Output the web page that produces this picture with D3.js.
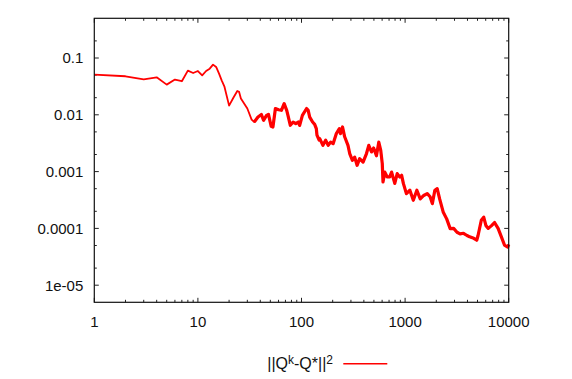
<!DOCTYPE html>
<html>
<head>
<meta charset="utf-8">
<script src="https://cdn.jsdelivr.net/npm/d3@7"></script>
<style>
  body { margin: 0; background: #fff; }
  svg text { font-family: "Liberation Sans", Arial, sans-serif; fill: #111; }
</style>
</head>
<body>
<div id="chart"></div>
<script>
// iteration k and squared error ||Q^k - Q*||^2
const iterK = [1, 2, 3, 4, 5, 6, 7, 8, 9, 10, 11, 12, 13, 14, 15, 16, 17, 18, 20, 22,
  24, 25, 26, 30, 33, 35, 38, 41, 43, 46, 48, 51, 53, 56, 60, 64, 68, 72, 74, 78,
  83, 88, 93, 96, 102, 112, 116, 120, 128, 134, 139, 141, 148, 150, 161, 171, 181, 191, 202, 217,
  232, 238, 249, 261, 281, 292, 310, 326, 344, 364, 393, 424, 446, 474, 497, 529, 557, 582, 602, 612,
  637, 670, 710, 741, 795, 839, 890, 926, 962, 1029, 1112, 1200, 1299, 1400, 1513, 1636, 1744, 1832, 1937, 2040,
  2155, 2330, 2520, 2723, 2940, 3170, 3390, 3660, 3960, 4200, 4600, 4920, 5060, 5440, 5740, 6030, 6350, 6830, 7300, 7900,
  8500, 9100, 9800, 10000];
const errVal = [0.051, 0.0477, 0.042, 0.0457, 0.034, 0.0417, 0.039, 0.060, 0.0545, 0.059, 0.0496, 0.059, 0.065, 0.0765, 0.0695, 0.053, 0.040, 0.0318, 0.0145, 0.0200,
  0.0262, 0.0253, 0.0193, 0.0129, 0.0082, 0.00746, 0.00914, 0.0101, 0.008, 0.0098, 0.0102, 0.00628, 0.0061, 0.0129, 0.0123, 0.0120, 0.0157, 0.012, 0.0098, 0.00653,
  0.00746, 0.0070, 0.00746, 0.0065, 0.0098, 0.0129, 0.012, 0.0091, 0.00746, 0.0068, 0.0057, 0.0044, 0.0036, 0.0038, 0.0029, 0.00356, 0.0029, 0.0033, 0.0031, 0.00467,
  0.0057, 0.00467, 0.0061, 0.0041, 0.0029, 0.00208, 0.00158, 0.0018, 0.00129, 0.00169, 0.00147, 0.00208, 0.0029, 0.00222, 0.0026, 0.0019, 0.0033, 0.00236, 0.00138, 0.00066,
  0.00098, 0.00081, 0.00081, 0.00098, 0.00062, 0.00092, 0.0008, 0.00086, 0.00062, 0.00041, 0.00047, 0.000313, 0.00047, 0.00033, 0.00038, 0.00041, 0.00036, 0.000273, 0.00047, 0.0005,
  0.00033, 0.000195, 0.000147, 0.000099, 0.0001, 0.0000855, 0.00008, 0.000082, 0.000075, 0.000071, 0.000067, 0.000062, 0.000075, 0.000139, 0.000158, 0.000112, 0.0001, 0.000112, 0.000127, 0.0001,
  0.000071, 0.000051, 0.000047, 0.000052];

const xTicks = [1, 10, 100, 1000, 10000];
const xTickLabels = ['1', '10', '100', '1000', '10000'];
const yTicks = [0.1, 0.01, 0.001, 0.0001, 0.00001];
const yTickLabels = ['0.1', '0.01', '0.001', '0.0001', '1e-05'];

const width = 572, height = 379;
const margin = {top: 18.3, right: 63.3, bottom: 76.7, left: 94.3};
const w = width - margin.left - margin.right;
const h = height - margin.top - margin.bottom;

const svg = d3.select('#chart').append('svg')
    .attr('width', width)
    .attr('height', height);

const g = svg.append('g')
    .attr('transform', 'translate(' + margin.left + ',' + margin.top + ')');

const x = d3.scaleLog().domain([1, 10000]).range([0, w]);
const y = d3.scaleLog().domain([5e-6, 0.5]).range([h, 0]);

// minor ticks: 2..9 per decade on x, 2 and 5 on y
const xMinor = [];
for (let d = 1; d < 10000; d *= 10) for (let m = 2; m <= 9; m++) xMinor.push(d * m);
const yMinor = [];
for (let d = 1e-6; d < 1; d *= 10) [2, 5].forEach(m => { const v = d * m; if (v > 5e-6 && v < 0.5) yMinor.push(v); });

const tickStroke = '#222';
const ticks = g.append('g').attr('stroke', tickStroke).attr('stroke-width', 1);
function hTick(v, len) {
  ticks.append('line').attr('x1', 0).attr('x2', len).attr('y1', y(v)).attr('y2', y(v));
  ticks.append('line').attr('x1', w).attr('x2', w - len).attr('y1', y(v)).attr('y2', y(v));
}
function vTick(v, len) {
  ticks.append('line').attr('y1', h).attr('y2', h - len).attr('x1', x(v)).attr('x2', x(v));
  ticks.append('line').attr('y1', 0).attr('y2', len).attr('x1', x(v)).attr('x2', x(v));
}
yTicks.forEach(v => hTick(v, 4.5));
yMinor.forEach(v => hTick(v, 2.5));
xTicks.forEach(v => vTick(v, 4.5));
xMinor.forEach(v => vTick(v, 2.5));

// tick labels
g.append('g').selectAll('text')
  .data(yTicks)
  .join('text')
    .attr('x', -11)
    .attr('y', d => y(d))
    .attr('dy', '0.36em')
    .attr('text-anchor', 'end')
    .style('font-size', '15px')
    .text((d, i) => yTickLabels[i]);

g.append('g').selectAll('text')
  .data(xTicks)
  .join('text')
    .attr('x', d => x(d))
    .attr('y', h + 25)
    .attr('text-anchor', 'middle')
    .style('font-size', '15px')
    .text((d, i) => xTickLabels[i]);

// error curve
const line = d3.line()
    .x(d => x(d[0]))
    .y(d => y(d[1]));
const pts = iterK.map((k, i) => [k, errVal[i]]);

g.append('path')
    .datum(pts)
    .attr('fill', 'none')
    .attr('stroke', '#ff0000')
    .attr('stroke-width', 1.8)
    .attr('stroke-linejoin', 'round')
    .attr('d', line);

// the tail is a dense, noisy band in the original; draw it heavier
g.append('path')
    .datum(pts.filter(p => p[0] >= 35))
    .attr('fill', 'none')
    .attr('stroke', '#ff0000')
    .attr('stroke-width', 3.2)
    .attr('stroke-linejoin', 'round')
    .attr('d', line);

// frame
g.append('rect')
    .attr('width', w)
    .attr('height', h)
    .attr('fill', 'none')
    .attr('stroke', '#111')
    .attr('stroke-width', 1.2);

// legend
const legText = svg.append('text')
    .attr('x', 333)
    .attr('y', 369)
    .attr('text-anchor', 'end')
    .style('font-size', '16px');
legText.append('tspan').text('||Q');
legText.append('tspan').attr('baseline-shift', '45%').style('font-size', '12px').text('k');
legText.append('tspan').text('-Q*||');
legText.append('tspan').attr('baseline-shift', '45%').style('font-size', '12px').text('2');

svg.append('line')
    .attr('x1', 343.3).attr('x2', 387.3)
    .attr('y1', 363.7).attr('y2', 363.7)
    .attr('stroke', '#ff0000')
    .attr('stroke-width', 1.5);
</script>
</body>
</html>
